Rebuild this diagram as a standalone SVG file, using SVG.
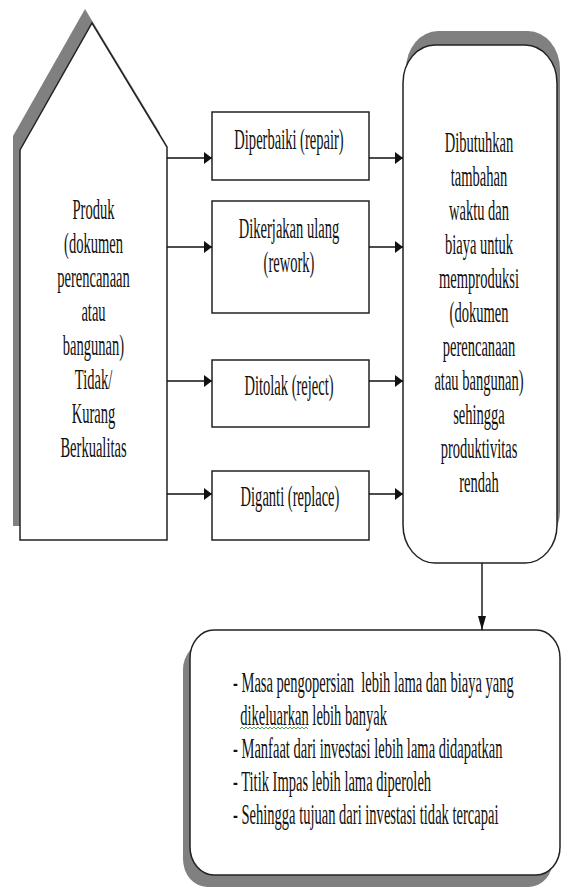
<svg xmlns="http://www.w3.org/2000/svg" width="563" height="891" viewBox="0 0 563 891">
<style>
.sh{fill:#808080;stroke:none}
.bx{fill:#fff;stroke:#222;stroke-width:1.5}
.t{font-family:"Liberation Serif","Times New Roman",serif;font-size:28.5px;fill:#111}
.ln{stroke:#111;stroke-width:1.4;fill:none}
</style>
<defs>
<marker id="ah" markerUnits="userSpaceOnUse" markerWidth="9" markerHeight="12" refX="8" refY="6" orient="auto"><path d="M0,0 L8,6 L0,12 z" fill="#111"/></marker>
<marker id="av" markerUnits="userSpaceOnUse" markerWidth="15" markerHeight="9" refX="14" refY="4" orient="auto"><path d="M0,0 L14,4 L0,8 z" fill="#111"/></marker>
</defs>
<rect width="563" height="891" fill="#fff"/>

<g id="house">
<polygon class="sh" points="13,136 85,9 160,133 160,526 13,526"/>
<polygon class="bx" points="20,150 92,23 167,147 167,540 20,540"/>
<g transform="translate(93.5 0) scale(0.51 1)">
<text class="t" text-anchor="middle"><tspan x="0" y="219">Produk</tspan><tspan x="0" y="253">(dokumen</tspan><tspan x="0" y="287">perencanaan</tspan><tspan x="0" y="321">atau</tspan><tspan x="0" y="355">bangunan)</tspan><tspan x="0" y="389">Tidak/</tspan><tspan x="0" y="423">Kurang</tspan><tspan x="0" y="457">Berkualitas</tspan></text>
</g>
</g>

<g id="box-repair">
<rect class="bx" x="212" y="112" width="157" height="68"/>
<g transform="translate(289 0) scale(0.51 1)"><text class="t" text-anchor="middle" x="0" y="149">Diperbaiki (repair)</text></g>
</g>

<g id="box-rework">
<rect class="bx" x="212" y="201" width="157" height="112"/>
<g transform="translate(289 0) scale(0.51 1)"><text class="t" text-anchor="middle"><tspan x="0" y="238">Dikerjakan ulang</tspan><tspan x="0" y="272">(rework)</tspan></text></g>
</g>

<g id="box-reject">
<rect class="bx" x="212" y="360" width="157" height="67"/>
<g transform="translate(289 0) scale(0.51 1)"><text class="t" text-anchor="middle" x="0" y="395">Ditolak (reject)</text></g>
</g>

<g id="box-replace">
<rect class="bx" x="212" y="471" width="157" height="69"/>
<g transform="translate(290 0) scale(0.51 1)"><text class="t" text-anchor="middle" x="0" y="506">Diganti (replace)</text></g>
</g>

<g id="box-result">
<rect class="sh" x="406" y="31" width="154" height="518" rx="32" ry="38"/>
<rect class="bx" x="403" y="45" width="154" height="518" rx="32" ry="38"/>
<g transform="translate(479 0) scale(0.51 1)">
<text class="t" text-anchor="middle"><tspan x="0" y="152">Dibutuhkan</tspan><tspan x="0" y="186">tambahan</tspan><tspan x="0" y="220">waktu dan</tspan><tspan x="0" y="254">biaya untuk</tspan><tspan x="0" y="288">memproduksi</tspan><tspan x="0" y="322">(dokumen</tspan><tspan x="0" y="356">perencanaan</tspan><tspan x="0" y="390">atau bangunan)</tspan><tspan x="0" y="424">sehingga</tspan><tspan x="0" y="458">produktivitas</tspan><tspan x="0" y="492">rendah</tspan></text>
</g>
</g>

<g id="box-impact">
<rect class="sh" x="183" y="642" width="370" height="245" rx="24" ry="28"/>
<rect class="bx" x="190" y="630" width="370" height="245" rx="24" ry="28"/>
<g transform="translate(233 0) scale(0.51 1)">
<text class="t" xml:space="preserve"><tspan x="0" y="692">- Masa pengopersian  lebih lama dan biaya yang</tspan><tspan x="14" y="725">dikeluarkan lebih banyak</tspan><tspan x="0" y="758">- Manfaat dari investasi lebih lama didapatkan</tspan><tspan x="0" y="791">- Titik Impas lebih lama diperoleh</tspan><tspan x="0" y="824">- Sehingga tujuan dari investasi tidak tercapai</tspan></text>
</g>
<path d="M240,729 l2,-2 l2,2 l2,-2 l2,2 l2,-2 l2,2 l2,-2 l2,2 l2,-2 l2,2 l2,-2 l2,2 l2,-2 l2,2 l2,-2 l2,2 l2,-2 l2,2 l2,-2 l2,2 l2,-2 l2,2 l2,-2 l2,2 l2,-2 l2,2 l2,-2 l2,2 l2,-2 l2,2 l2,-2 l2,2 l2,-2 l2,2" fill="none" stroke="#3a9a3a" stroke-width="0.9"/>
</g>

<g id="connectors">
<line class="ln" x1="167" y1="158" x2="212" y2="158" marker-end="url(#ah)"/>
<line class="ln" x1="167" y1="247" x2="212" y2="247" marker-end="url(#ah)"/>
<line class="ln" x1="167" y1="381" x2="212" y2="381" marker-end="url(#ah)"/>
<line class="ln" x1="167" y1="494" x2="212" y2="494" marker-end="url(#ah)"/>
<line class="ln" x1="369" y1="158" x2="403" y2="158" marker-end="url(#ah)"/>
<line class="ln" x1="369" y1="247" x2="403" y2="247" marker-end="url(#ah)"/>
<line class="ln" x1="369" y1="381" x2="403" y2="381" marker-end="url(#ah)"/>
<line class="ln" x1="369" y1="494" x2="403" y2="494" marker-end="url(#ah)"/>
<line class="ln" x1="482" y1="563" x2="482" y2="630" marker-end="url(#av)"/>
</g>
</svg>
